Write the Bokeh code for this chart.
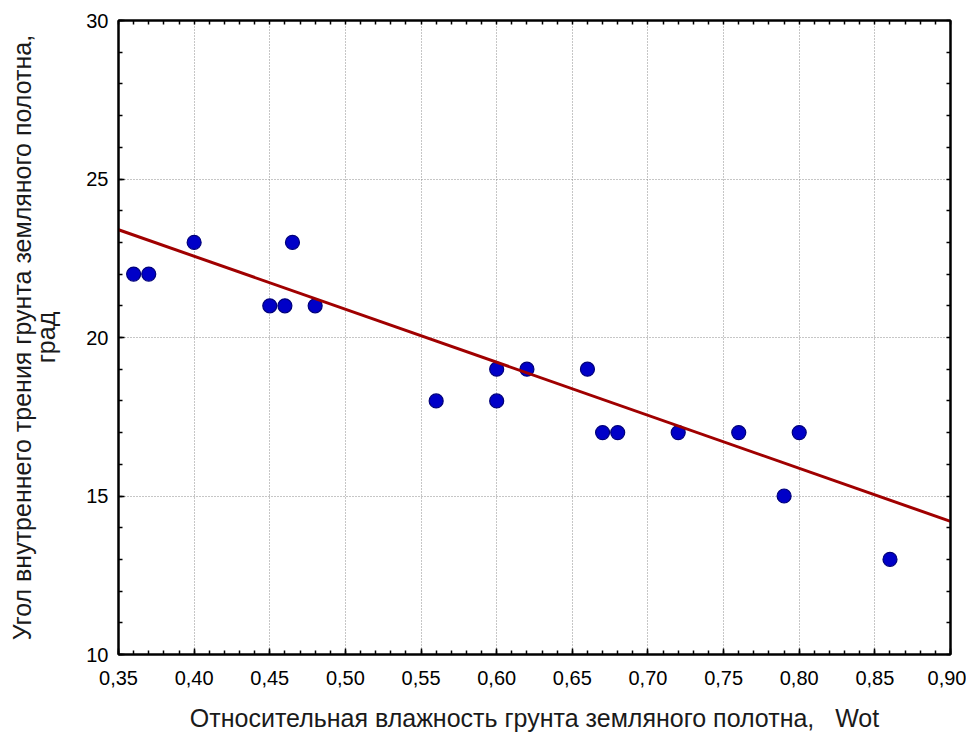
from bokeh.plotting import figure
from bokeh.models import Range1d, FixedTicker, LinearAxis, CustomJSTickFormatter
from bokeh.embed import file_html
from bokeh.resources import INLINE

# Data
moisture = [0.36, 0.37, 0.40, 0.45, 0.46, 0.465, 0.48, 0.56, 0.60, 0.60,
            0.62, 0.66, 0.67, 0.68, 0.72, 0.76, 0.79, 0.80, 0.86]
friction_angle = [22, 22, 23, 21, 21, 23, 21, 18, 19, 18,
                  19, 19, 17, 17, 17, 17, 15, 17, 13]

# Regression line (endpoints)
fit_x = [0.35, 0.90]
fit_y = [23.4, 14.2]

x_ticks = [0.35, 0.40, 0.45, 0.50, 0.55, 0.60, 0.65, 0.70, 0.75, 0.80, 0.85, 0.90]
x_tick_labels = ["0,35", "0,40", "0,45", "0,50", "0,55", "0,60",
                 "0,65", "0,70", "0,75", "0,80", "0,85", "0,90"]
y_ticks = [10, 15, 20, 25, 30]
y_tick_labels = ["10", "15", "20", "25", "30"]

x_minor = [round(0.35 + 0.01 * i, 2) for i in range(56)]
y_minor = list(range(10, 31))

x_label = "Относительная влажность грунта земляного полотна,\u00a0\u00a0\u00a0Wot"
y_label = "Угол внутреннего трения грунта земляного полотна,\nград"

FONT = "Liberation Sans"
TEXT_COLOR = "#1a1a1a"

p = figure(width=966, height=734, output_backend="svg", toolbar_location=None,
           x_range=Range1d(0.35, 0.90), y_range=Range1d(10, 30),
           min_border_left=118, min_border_top=20, min_border_right=16,
           min_border_bottom=79)
p.background_fill_color = "white"
p.border_fill_color = "white"
p.outline_line_color = "black"
p.outline_line_width = 2

fmt_code = """
let best = 0; let d = Infinity;
for (let i = 0; i < tvals.length; i++) {
  const e = Math.abs(tvals[i] - tick);
  if (e < d) { d = e; best = i; }
}
return tlabels[best];
"""
x_fmt = CustomJSTickFormatter(args=dict(tvals=x_ticks, tlabels=x_tick_labels), code=fmt_code)
y_fmt = CustomJSTickFormatter(args=dict(tvals=y_ticks, tlabels=y_tick_labels), code=fmt_code)

x_ticker = FixedTicker(ticks=x_ticks, minor_ticks=x_minor)
y_ticker = FixedTicker(ticks=y_ticks, minor_ticks=y_minor)
# frame-only tickers for the top/right edges (tick marks, no labels)
x_edge_ticker = FixedTicker(ticks=[], minor_ticks=x_minor)
y_edge_ticker = FixedTicker(ticks=[], minor_ticks=y_minor)


def style_axis(ax):
    ax.axis_line_color = "black"
    ax.axis_line_width = 2
    ax.major_tick_in = 6
    ax.major_tick_out = 0
    ax.minor_tick_in = 4
    ax.minor_tick_out = 0
    ax.major_tick_line_color = "black"
    ax.minor_tick_line_color = "black"
    ax.major_tick_line_width = 1.5
    ax.minor_tick_line_width = 1.5


xa = p.xaxis[0]
xa.ticker = x_ticker
xa.formatter = x_fmt
xa.axis_label = x_label
style_axis(xa)
xa.major_label_text_font = FONT
xa.major_label_text_font_size = "20px"
xa.major_label_text_color = "black"
xa.axis_label_text_font = FONT
xa.axis_label_text_font_size = "25px"
xa.axis_label_text_font_style = "normal"
xa.axis_label_text_color = TEXT_COLOR
xa.major_label_standoff = 16
xa.axis_label_standoff = 16

ya = p.yaxis[0]
ya.ticker = y_ticker
ya.formatter = y_fmt
ya.axis_label = y_label
style_axis(ya)
ya.major_label_text_font = FONT
ya.major_label_text_font_size = "20px"
ya.major_label_text_color = "black"
ya.axis_label_text_font = FONT
ya.axis_label_text_font_size = "25px"
ya.axis_label_text_font_style = "normal"
ya.axis_label_text_color = TEXT_COLOR
ya.axis_label_text_line_height = 0.88
ya.major_label_standoff = 10
ya.axis_label_standoff = 23

top_ax = LinearAxis(ticker=x_edge_ticker)
style_axis(top_ax)
top_ax.major_label_standoff = 0
p.add_layout(top_ax, "above")

right_ax = LinearAxis(ticker=y_edge_ticker)
style_axis(right_ax)
right_ax.major_label_standoff = 0
p.add_layout(right_ax, "right")

p.xgrid.ticker = x_ticker
p.ygrid.ticker = y_ticker
for g in (p.xgrid[0], p.ygrid[0]):
    g.grid_line_color = "#8c8c8c"
    g.grid_line_dash = "1 2"
    g.grid_line_width = 1

p.scatter(moisture, friction_angle, size=14, marker="circle",
          fill_color="#0000c8", line_color="#00007a", line_width=1.2)
p.line(fit_x, fit_y, line_color="#a00000", line_width=3)

open("out.html", "w").write(file_html(p, INLINE))
